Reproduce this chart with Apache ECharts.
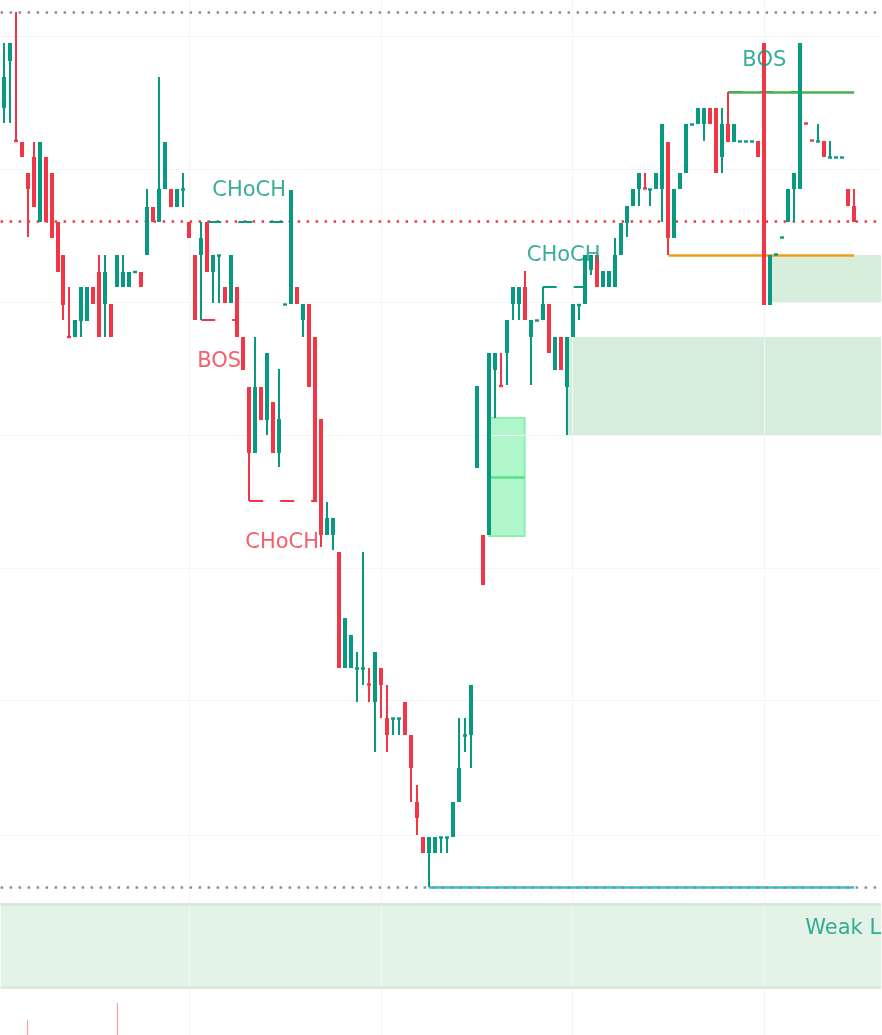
<!DOCTYPE html>
<html><head><meta charset="utf-8">
<script src="https://cdn.jsdelivr.net/npm/echarts@6/dist/echarts.min.js"></script>
<style>html,body{margin:0;padding:0;background:#fff;}#c{width:882px;height:1035px;}</style>
</head><body><div id="c"></div>
<script>
// ---------- DATA ----------
const N_SLOTS = 147;
const categories = Array.from({length: N_SLOTS}, (_, i) => 'Bar ' + (i + 1));

const opens = [927,974,895,893,862,878,813,878,862,813,780,699,698,714,714,748,763,731,731,748,
748,748,762,763,780,828,813,846,846,828,845,813,780,780,813,763,779,748,732,748,
698,648,582,648,615,633,582,730,731,748,715,731,698,616,500,500,483,367,367,366,
366,351,333,367,317,316,316,333,300,233,198,182,182,197,197,198,233,299,300,567,
500,500,665,650,682,731,731,748,698,714,715,731,665,698,648,698,729,731,765,780,
748,748,748,780,812,829,846,847,845,846,846,893,797,846,862,910,911,911,927,927,
878,911,893,893,893,893,894,992,730,780,797,813,846,846,912,895,893,894,877,877,
877,846,829];
const closes = [958,992,893,878,846,828,893,813,797,763,730,697,715,748,748,731,698,763,698,780,
763,763,764,748,828,813,846,893,828,846,846,797,715,797,763,780,780,732,780,698,
665,582,648,615,682,582,616,731,845,731,731,648,533,500,517,517,367,417,400,367,
367,350,383,350,300,317,317,300,267,217,182,198,198,198,198,233,267,300,350,649,
450,682,682,648,715,748,748,715,715,715,731,682,698,665,698,731,731,780,780,748,
764,764,780,812,829,846,862,846,846,862,911,797,846,862,911,911,927,927,911,862,
911,893,911,894,894,894,878,730,780,781,798,846,862,992,911,894,894,878,878,878,
878,829,813];
const lows = [912,912,893,878,798,828,813,813,797,763,715,697,698,698,714,731,698,698,698,748,
748,748,762,748,780,813,813,846,828,828,828,797,715,715,763,732,732,732,732,698,
665,534,582,615,600,582,568,730,731,731,698,648,533,488,500,485,367,367,367,333,
350,333,283,317,283,300,300,300,233,200,182,148,182,182,182,198,233,283,267,567,
450,500,617,648,650,715,715,715,650,714,715,682,665,665,600,698,715,731,760,748,
748,748,748,780,798,829,829,846,829,846,813,780,797,846,862,910,911,894,911,862,
862,893,893,893,893,893,878,730,730,780,797,813,813,846,911,894,893,878,877,877,
877,829,813];
const highs = [992,992,1023,893,862,893,893,878,862,813,780,748,715,748,748,748,780,780,731,780,
780,763,764,763,846,828,958,893,846,846,862,813,780,813,813,780,780,748,780,748,
698,648,698,648,682,633,666,731,845,748,731,731,698,616,533,517,483,417,400,383,
483,367,383,367,350,317,317,333,300,250,198,198,198,198,198,233,317,317,350,649,
500,682,682,682,715,748,748,764,715,715,748,731,698,698,698,731,731,780,780,780,
764,764,797,812,829,846,862,862,846,862,911,893,846,862,911,911,927,927,927,927,
927,943,911,894,894,894,894,992,780,781,798,846,862,992,912,895,911,894,894,878,
878,846,846];

// horizontal levels
const strongHighLevel = 1023;
const midDottedLevel = 813.5;
const weakLowLevel = 148;
const weakLowStart = 71;
const upperTrendLevel = 943, upperTrendStart = 121;
const lowerTrendLevel = 780, lowerTrendStart = 111;
const lastBar = 142;

// structure breaks: [label, fromBar, toBar, level, bullish]
const structures = [
  ['CHoCH', 34, 48, 813.5, true],
  ['BOS', 33, 39, 715, false],
  ['CHoCH', 41, 52, 534, false],
  ['CHoCH', 90, 97, 748, true],
  ['BOS', 121, 133, 943, true]
];
// zones
const fvgZone = [81, 87, 617, 499];           // fromBar, toBar, top, bottom
const demandZones = [[94, 698, 600], [128, 780, 732]]; // fromBar, top, bottom (to right edge)
const weakLowZone = [132, 47];                // top, bottom (full width)
const weakLowLabel = ['Weak Low', 134, 107];
// faint grid
const gridRows = [999, 866, 733, 600, 467, 335, 200];
const gridCols = [31, 63, 95, 127];
// lower pane stubs
const lowerPaneBars = categories.map(() => null);
lowerPaneBars[4] = 15; lowerPaneBars[19] = 32;

// ---------- CHART ----------
const GREEN = '#089981', RED = '#f23645';
const SLOT = 880.5 / N_SLOTS;
const candleData = opens.map((o, i) => [i, o, closes[i], lows[i], highs[i]]);

const markLines = [];
gridRows.forEach(v => markLines.push({yAxis: v, lineStyle: {color: '#f3f5f9', width: 1, type: 'solid'}}));
gridCols.forEach(v => markLines.push({xAxis: v, lineStyle: {color: '#f3f5f9', width: 1, type: 'solid'}}));
markLines.push({yAxis: strongHighLevel, lineStyle: {color: '#8b8e96', width: 2.5, type: [2.5, 6.5]}});
markLines.push({yAxis: midDottedLevel, lineStyle: {color: RED, width: 2.5, type: [2.5, 6.5]}});
markLines.push([{coord: [weakLowStart, weakLowLevel], lineStyle: {color: '#33bfd2', width: 2.5, type: 'solid'}}, {coord: [lastBar, weakLowLevel]}]);
markLines.push({yAxis: weakLowLevel, lineStyle: {color: '#8b8e96', width: 2.5, type: [2.5, 6.5]}});
markLines.push({yAxis: weakLowZone[0] - 1, lineStyle: {color: '#d3ead7', width: 2.5, type: 'solid'}});
markLines.push({yAxis: weakLowZone[1] + 1, lineStyle: {color: '#d3ead7', width: 2.5, type: 'solid'}});
structures.forEach(s => markLines.push([
  {coord: [s[1], s[3]], lineStyle: {color: s[4] ? GREEN : RED, width: 2, type: [14, 17]}},
  {coord: [s[2], s[3]]}
]));
markLines.push([{coord: [upperTrendStart, upperTrendLevel], lineStyle: {color: '#4caf50', width: 2.5, type: 'solid'}}, {coord: [lastBar, upperTrendLevel]}]);
markLines.push([{coord: [lowerTrendStart, lowerTrendLevel], lineStyle: {color: '#f49d17', width: 2.5, type: 'solid'}}, {coord: [lastBar, lowerTrendLevel]}]);
markLines.push([{coord: [fvgZone[0], (fvgZone[2] + fvgZone[3]) / 2], lineStyle: {color: '#58e08a', width: 2.5, type: 'solid'}}, {coord: [fvgZone[1], (fvgZone[2] + fvgZone[3]) / 2]}]);

const markAreas = [];
markAreas.push([{yAxis: weakLowZone[0], itemStyle: {color: '#e4f3e7'}}, {yAxis: weakLowZone[1]}]);
demandZones.forEach(z => markAreas.push([{xAxis: z[0], yAxis: z[1], itemStyle: {color: '#d8eedc'}}, {yAxis: z[2]}]));
markAreas.push([{xAxis: fvgZone[0], yAxis: fvgZone[2], itemStyle: {color: '#aff7ca', borderColor: '#8ef0b0', borderWidth: 2}}, {xAxis: fvgZone[1], yAxis: fvgZone[3]}]);

const labelPoints = structures.map(s => {
  const mid = (s[1] + s[2]) / 2, idx = Math.floor(mid);
  return {
    value: [idx, s[3]],
    label: {formatter: s[0], color: s[4] ? GREEN : RED, offset: [(mid - idx) * SLOT, s[4] ? -31 : 42]}
  };
});
labelPoints.push({value: [weakLowLabel[1], weakLowLabel[2]], label: {formatter: weakLowLabel[0], color: GREEN, align: 'left', offset: [-1, 1]}});

function renderCandle(params, api) {
  const idx = api.value(0);
  const o = api.value(1), c = api.value(2), l = api.value(3), h = api.value(4);
  const pO = api.coord([idx, o]);
  const yC = api.coord([idx, c])[1];
  const yL = api.coord([idx, l])[1];
  const yH = api.coord([idx, h])[1];
  const x = Math.round(pO[0]);
  const col = c >= o ? GREEN : RED;
  let top = Math.min(pO[1], yC), bot = Math.max(pO[1], yC);
  if (bot - top < 2.4) { const m = (top + bot) / 2; top = m - 1.2; bot = m + 1.2; }
  return {
    type: 'group',
    children: [
      {type: 'rect', shape: {x: x - 1, y: yH, width: 2, height: Math.max(yL - yH, 0)}, style: {fill: col}},
      {type: 'rect', shape: {x: x - 2, y: top, width: 4, height: bot - top}, style: {fill: col}}
    ]
  };
}

const chart = echarts.init(document.getElementById('c'), null, {renderer: 'canvas'});
chart.setOption({
  animation: false,
  backgroundColor: '#ffffff',
  grid: {left: 0.6, right: 0.9, top: 0, bottom: 0, containLabel: false},
  xAxis: {type: 'category', data: categories, show: false, boundaryGap: true},
  yAxis: {type: 'value', min: 0, max: 1035, show: false, splitLine: {show: false}},
  series: [
    {
      type: 'line', data: [], z: 1, silent: true, symbol: 'none',
      markArea: {silent: true, z: 1, data: markAreas},
      markLine: {silent: true, z: 2, symbol: ['none', 'none'], label: {show: false}, data: markLines}
    },
    {
      type: 'bar', data: lowerPaneBars, barWidth: 1.3, z: 2, silent: true,
      itemStyle: {color: 'rgba(242,54,69,0.45)'}
    },
    {
      type: 'custom', name: 'OHLC', data: candleData, z: 3, silent: true,
      encode: {x: 0, y: [1, 2, 3, 4]},
      renderItem: renderCandle
    },
    {
      type: 'scatter', data: labelPoints, z: 5, symbolSize: 0, silent: true,
      label: {show: true, position: 'inside', fontFamily: 'DejaVu Sans', fontSize: 21, verticalAlign: 'middle', align: 'center'}
    }
  ]
});
</script></body></html>
